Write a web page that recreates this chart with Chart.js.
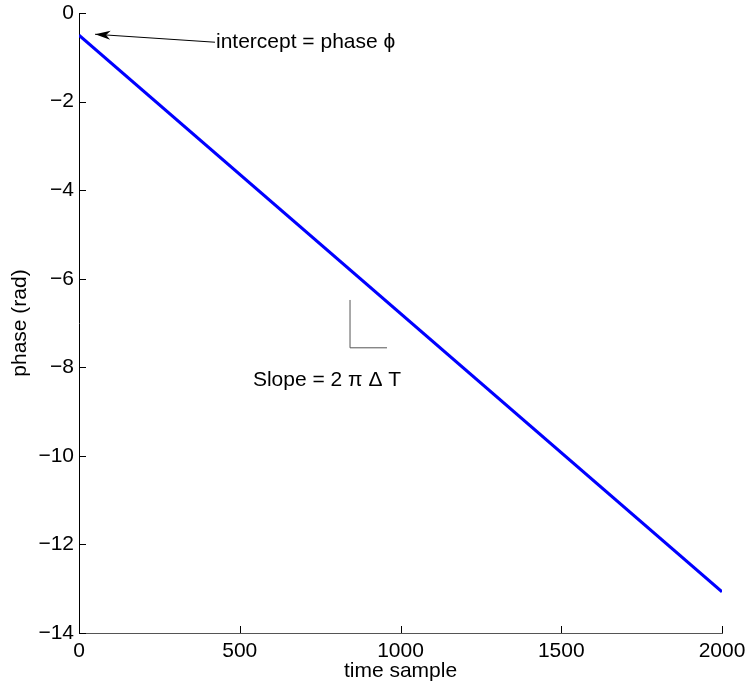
<!DOCTYPE html>
<html lang="en">
<head>
<meta charset="UTF-8">
<title>Phase vs time sample</title>
<script src="https://cdn.jsdelivr.net/npm/chart.js@4/dist/chart.umd.min.js"></script>
<style>
    body { margin: 0; background: #fff; }
    .chart-box { width: 746px; height: 688px; position: relative; }
</style>
</head>
<body>
<div class="chart-box"><canvas id="phaseChart"></canvas></div>
<script>
    // values
    const sampleIdx = [0, 2000];
    const phaseRad = [-0.5, -13.07];
    const xTicks = [0, 500, 1000, 1500, 2000];
    const yTicks = [-14, -12, -10, -8, -6, -4, -2, 0];

    const FONT = '"Liberation Sans", Arial, sans-serif';
    const FS = 21;

    // inward tick marks + annotations, placed through the chart scales
    const extras = {
        id: 'extras',
        afterDraw(chart) {
            const ctx = chart.ctx;
            const xs = chart.scales.x, ys = chart.scales.y;
            const area = chart.chartArea;
            ctx.save();
            ctx.strokeStyle = '#000';
            ctx.lineWidth = 1;
            xTicks.forEach(v => {
                const px = Math.round(xs.getPixelForValue(v)) + 0.5;
                ctx.beginPath();
                ctx.moveTo(px, area.bottom);
                ctx.lineTo(px, area.bottom - 7);
                ctx.stroke();
            });
            yTicks.forEach(v => {
                const py = Math.round(ys.getPixelForValue(v)) + 0.5;
                ctx.beginPath();
                ctx.moveTo(area.left, py);
                ctx.lineTo(area.left + 7, py);
                ctx.stroke();
            });

            // arrow to the intercept
            const tx = xs.getPixelForValue(423), ty = ys.getPixelForValue(-0.66);
            const ax = xs.getPixelForValue(50), ay = ys.getPixelForValue(-0.48);
            ctx.beginPath();
            ctx.moveTo(tx, ty);
            ctx.lineTo(ax, ay);
            ctx.stroke();
            const ang = Math.atan2(ay - ty, ax - tx);
            ctx.fillStyle = '#000';
            ctx.beginPath();
            ctx.moveTo(ax, ay);
            ctx.lineTo(ax - 16 * Math.cos(ang - 0.28), ay - 16 * Math.sin(ang - 0.28));
            ctx.lineTo(ax - 11 * Math.cos(ang), ay - 11 * Math.sin(ang));
            ctx.lineTo(ax - 16 * Math.cos(ang + 0.28), ay - 16 * Math.sin(ang + 0.28));
            ctx.closePath();
            ctx.fill();

            ctx.font = FS + 'px ' + FONT;
            ctx.textBaseline = 'middle';
            ctx.textAlign = 'left';
            ctx.fillText('intercept = phase \u03d5', tx + 1, ty);

            // slope marker
            ctx.strokeStyle = '#555';
            ctx.beginPath();
            ctx.moveTo(xs.getPixelForValue(843), ys.getPixelForValue(-6.48));
            ctx.lineTo(xs.getPixelForValue(843), ys.getPixelForValue(-7.56));
            ctx.lineTo(xs.getPixelForValue(958), ys.getPixelForValue(-7.56));
            ctx.stroke();
            ctx.fillText('Slope = 2 \u03c0 \u0394 T', xs.getPixelForValue(541), ys.getPixelForValue(-8.3));
            ctx.restore();
        }
    };

    new Chart(document.getElementById('phaseChart'), {
        type: 'line',
        data: {
            datasets: [{
                data: sampleIdx.map((x, i) => ({ x: x, y: phaseRad[i] })),
                borderColor: '#0000ff',
                borderWidth: 3,
                pointRadius: 0,
                tension: 0
            }]
        },
        options: {
            responsive: true,
            maintainAspectRatio: false,
            animation: false,
            layout: { padding: { top: 13, right: 24, left: 0, bottom: 0 } },
            plugins: { legend: { display: false }, tooltip: { enabled: false } },
            scales: {
                x: {
                    type: 'linear',
                    min: 0, max: 2000,
                    afterBuildTicks: s => { s.ticks = xTicks.map(v => ({ value: v })); },
                    afterFit: s => { s.height = 55; s.paddingRight = 0; s.paddingLeft = 0; },
                    grid: { display: true, drawOnChartArea: false, drawTicks: false },
                    border: { display: true, color: '#555', width: 1 },
                    ticks: { color: '#000', padding: 6, font: { family: FONT, size: FS }, callback: v => String(v) },
                    title: { display: true, text: 'time sample', color: '#000', padding: { top: -3 }, font: { family: FONT, size: FS } }
                },
                y: {
                    min: -14, max: 0,
                    afterBuildTicks: s => { s.ticks = yTicks.map(v => ({ value: v })); },
                    afterFit: s => { s.width = 79; s.paddingTop = 0; s.paddingBottom = 0; },
                    grid: { display: true, drawOnChartArea: false, drawTicks: false },
                    border: { display: true, color: '#000', width: 1 },
                    ticks: {
                        color: '#000', padding: 5,
                        font: { family: FONT, size: FS },
                        callback: v => String(v).replace('-', '\u2212')
                    },
                    title: { display: true, text: 'phase (rad)', color: '#000', padding: { top: 8, bottom: 0 }, font: { family: FONT, size: FS } }
                }
            }
        },
        plugins: [extras]
    });
</script>
</body>
</html>
